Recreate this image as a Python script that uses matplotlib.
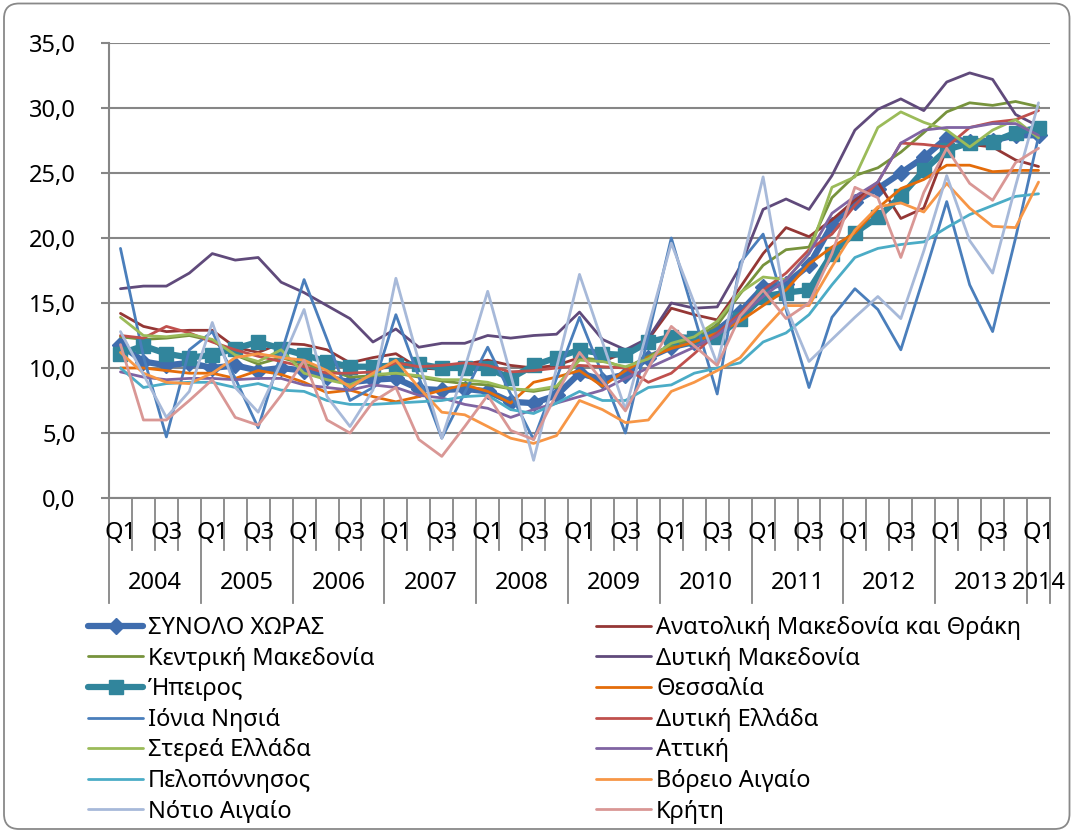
import matplotlib
matplotlib.use("Agg")
import matplotlib.pyplot as plt
from matplotlib.patches import FancyBboxPatch
import matplotlib.transforms as mtransforms

plt.rcParams['font.family'] = ['Noto Sans', 'DejaVu Sans']

# Δεδομένα (τρίμηνα 2004Q1 - 2014Q1)
quarters = ['Q1', 'Q2', 'Q3', 'Q4'] * 10 + ['Q1']
years = ['2004', '2005', '2006', '2007', '2008', '2009', '2010', '2011', '2012', '2013', '2014']

synolo = [11.8, 10.5, 10.2, 10.4, 10.0, 10.2, 9.8, 10.0, 9.8, 9.3, 8.9, 9.1, 9.2, 8.4, 8.3, 8.4, 8.2, 7.4, 7.3, 7.9,
          9.6, 9.1, 9.5, 10.8, 11.6, 12.0, 12.9, 14.3, 16.2, 16.5, 17.9, 21.0, 22.8, 23.8, 25.0, 26.2, 27.7, 27.4, 27.5, 27.9, 27.9]
anat_mak = [14.2, 13.2, 12.8, 12.9, 12.9, 11.6, 11.2, 11.9, 11.8, 11.4, 10.4, 10.8, 11.1, 10.0, 9.9, 10.3, 10.6, 10.2, 10.0, 10.2,
            10.8, 10.5, 11.2, 12.2, 14.6, 14.1, 13.7, 16.2, 18.8, 20.8, 20.1, 21.4, 22.9, 24.3, 21.5, 22.3, 26.9, 27.2, 27.0, 26.0, 25.5]
kentr_mak = [12.4, 12.2, 12.3, 12.5, 12.1, 11.0, 10.3, 10.8, 10.3, 9.9, 9.3, 9.4, 9.6, 9.3, 9.0, 8.8, 8.7, 8.4, 8.2, 8.5,
             10.8, 10.6, 10.0, 10.9, 11.7, 12.3, 13.3, 15.7, 17.9, 19.1, 19.3, 23.1, 24.8, 25.4, 26.6, 28.1, 29.7, 30.4, 30.2, 30.5, 30.1]
dyt_mak = [16.1, 16.3, 16.3, 17.3, 18.8, 18.3, 18.5, 16.6, 15.8, 14.8, 13.8, 12.0, 13.0, 11.6, 11.9, 11.9, 12.5, 12.3, 12.5, 12.6,
           14.3, 12.2, 11.4, 12.3, 15.0, 14.6, 14.7, 17.8, 22.2, 23.0, 22.2, 24.8, 28.3, 29.9, 30.7, 29.8, 32.0, 32.7, 32.2, 29.5, 28.6]
ipeiros = [11.1, 11.7, 11.1, 10.8, 11.0, 11.5, 12.0, 11.5, 11.0, 10.5, 10.1, 10.1, 10.2, 10.3, 10.0, 10.0, 10.0, 9.2, 10.2, 10.8,
           11.4, 11.1, 11.0, 12.0, 12.4, 12.3, 12.4, 13.8, 15.5, 15.8, 16.0, 18.8, 20.4, 21.6, 23.2, 25.2, 26.8, 27.3, 27.4, 28.1, 28.5]
thessalia = [10.0, 10.0, 9.8, 9.6, 9.6, 9.2, 9.8, 9.5, 8.9, 8.1, 8.3, 7.8, 7.4, 7.8, 8.3, 8.7, 8.2, 7.3, 8.9, 9.3,
             9.8, 8.6, 9.8, 10.8, 11.5, 12.0, 12.7, 13.6, 14.8, 16.0, 18.0, 19.3, 20.4, 22.3, 23.8, 24.5, 25.6, 25.6, 25.1, 25.2, 25.2]
ionia = [19.2, 10.9, 4.7, 11.4, 12.8, 9.2, 5.4, 11.1, 16.8, 12.2, 7.5, 8.5, 14.1, 9.3, 4.6, 8.1, 11.6, 8.0, 4.5, 9.2,
         13.9, 9.5, 5.0, 12.5, 20.0, 14.0, 8.0, 18.1, 20.3, 14.5, 8.5, 13.9, 16.1, 14.5, 11.4, 17.0, 22.8, 16.4, 12.8, 20.0, 27.8]
dyt_ell = [12.5, 12.3, 13.2, 12.7, 12.0, 11.4, 10.9, 10.5, 10.1, 9.6, 9.6, 9.7, 10.4, 10.1, 10.2, 10.4, 10.2, 9.7, 9.8, 10.0,
           10.2, 10.1, 10.0, 8.9, 9.6, 11.1, 12.7, 14.2, 16.0, 17.3, 19.1, 20.3, 22.5, 24.3, 27.3, 27.2, 27.0, 28.5, 28.9, 29.1, 29.8]
sterea = [13.9, 12.5, 12.4, 12.6, 12.2, 11.0, 10.5, 11.4, 9.6, 9.1, 8.7, 9.5, 9.6, 9.4, 9.1, 9.1, 8.9, 8.4, 8.3, 8.6,
          10.6, 10.5, 10.1, 10.7, 11.9, 12.4, 13.6, 15.8, 17.0, 16.8, 18.8, 23.9, 24.7, 28.5, 29.7, 28.9, 28.3, 27.0, 28.3, 29.1, 27.7]
attiki = [9.7, 9.3, 9.1, 9.2, 9.2, 9.1, 9.2, 9.2, 8.7, 8.5, 8.3, 8.7, 8.5, 7.9, 7.7, 7.2, 6.9, 6.2, 6.8, 7.3,
          7.8, 8.3, 9.2, 10.0, 10.8, 11.6, 12.5, 14.0, 15.5, 16.8, 18.8, 21.9, 23.2, 24.3, 27.3, 28.3, 28.5, 28.5, 28.8, 28.8, 27.9]
pelop = [10.0, 8.5, 8.8, 8.9, 8.9, 8.5, 8.8, 8.3, 8.2, 7.5, 7.2, 7.2, 7.3, 7.4, 7.5, 7.8, 7.9, 6.8, 6.5, 7.3,
         8.2, 7.5, 7.5, 8.5, 8.7, 9.6, 10.0, 10.4, 12.0, 12.7, 14.1, 16.4, 18.5, 19.2, 19.5, 19.7, 20.8, 21.8, 22.5, 23.2, 23.4]
vor_aig = [11.2, 9.6, 8.9, 8.8, 9.6, 10.8, 11.1, 10.8, 10.6, 9.8, 8.5, 9.6, 10.6, 8.5, 6.6, 6.4, 5.5, 4.6, 4.2, 4.8,
           7.5, 6.8, 5.8, 6.0, 8.2, 8.9, 9.8, 10.8, 12.9, 14.8, 14.8, 17.8, 20.6, 22.4, 22.7, 22.0, 24.2, 22.3, 20.9, 20.8, 24.3]
not_aig = [12.8, 9.5, 6.2, 8.2, 13.5, 8.5, 6.6, 10.4, 14.5, 7.8, 5.5, 8.3, 16.9, 10.5, 4.6, 10.0, 15.9, 9.5, 2.9, 10.0,
           17.2, 12.0, 6.8, 13.2, 19.6, 15.0, 10.3, 17.5, 24.7, 14.7, 10.5, 12.2, 13.9, 15.5, 13.8, 19.0, 24.8, 19.8, 17.3, 24.0, 30.4]
kriti = [11.8, 6.0, 6.0, 7.5, 9.1, 6.2, 5.6, 7.9, 10.6, 6.0, 5.0, 7.4, 8.5, 4.5, 3.2, 5.5, 7.9, 5.2, 4.5, 8.0,
         11.2, 9.0, 6.7, 10.0, 13.2, 11.7, 10.2, 14.0, 16.0, 13.8, 15.0, 18.8, 23.9, 23.1, 18.5, 23.5, 26.9, 24.2, 22.9, 25.8, 26.9]

series = [
    ("ΣΥΝΟΛΟ ΧΩΡΑΣ", synolo, '#3F6DAE', 4.5, 'D', 8),
    ("Ανατολική Μακεδονία και Θράκη", anat_mak, '#953735', 2.0, None, 0),
    ("Κεντρική Μακεδονία", kentr_mak, '#77933C', 2.0, None, 0),
    ("Δυτική Μακεδονία", dyt_mak, '#604A7B', 2.0, None, 0),
    ("Ήπειρος", ipeiros, '#31859C', 4.5, 's', 10),
    ("Θεσσαλία", thessalia, '#E46C0A', 2.0, None, 0),
    ("Ιόνια Νησιά", ionia, '#4A7EBB', 2.0, None, 0),
    ("Δυτική Ελλάδα", dyt_ell, '#C0504D', 2.0, None, 0),
    ("Στερεά Ελλάδα", sterea, '#9BBB59', 2.0, None, 0),
    ("Αττική", attiki, '#8064A2', 2.0, None, 0),
    ("Πελοπόννησος", pelop, '#4BACC6', 2.0, None, 0),
    ("Βόρειο Αιγαίο", vor_aig, '#F79646', 2.0, None, 0),
    ("Νότιο Αιγαίο", not_aig, '#A7B9D9', 2.0, None, 0),
    ("Κρήτη", kriti, '#D99795', 2.0, None, 0),
]

W, H = 1073, 832
fig = plt.figure(figsize=(W / 100, H / 100), dpi=100)
ax = fig.add_axes([109 / W, 1 - 498 / H, (1050 - 109) / W, 455 / H])

x = list(range(len(quarters)))
handles = []
for name, vals, col, lw, mk, ms in series:
    h, = ax.plot(x, vals, color=col, lw=lw, marker=mk, markersize=ms,
                 markerfacecolor=col, markeredgecolor=col, label=name,
                 solid_joinstyle='round', solid_capstyle='round')
    handles.append(h)

ax.set_xlim(-0.5, len(quarters) - 0.5)
ax.set_ylim(0, 35)
ax.set_yticks(range(0, 36, 5))
ax.set_yticklabels([f"{v:.1f}".replace('.', ',') for v in range(0, 36, 5)])
ax.yaxis.grid(True, color='#868686', lw=1.5)
ax.set_axisbelow(True)
ax.set_xticks([])
for s in ['top', 'right']:
    ax.spines[s].set_visible(False)
for s in ['left', 'bottom']:
    ax.spines[s].set_color('#868686')
    ax.spines[s].set_linewidth(1.5)
ax.tick_params(axis='y', length=6, width=1.5, color='#868686', pad=18, labelsize=17)

# άξονας κατηγοριών σε δύο επίπεδα (τρίμηνο / έτος)
trans = mtransforms.blended_transform_factory(ax.transData, ax.transAxes)
n = len(quarters)
for k in range(n + 1):
    b = k - 0.5
    long_line = (k % 4 == 0) or k == n
    y1 = -0.231 if long_line else -0.114
    ax.plot([b, b], [0, y1], color='#868686', lw=1.3, transform=trans, clip_on=False)
for i, q in enumerate(quarters):
    if i % 2 == 0:
        ax.text(i, -0.077, q, transform=trans, ha='center', va='center', fontsize=17)
for j, yr in enumerate(years):
    first = 4 * j
    last = min(4 * j + 3, n - 1)
    ax.text((first + last) / 2, -0.187, yr, transform=trans, ha='center', va='center', fontsize=17)

# υπόμνημα σε δύο στήλες
leg_kw = dict(loc='upper left', frameon=False, fontsize=17, borderpad=0, borderaxespad=0,
              handlelength=2.35, handletextpad=0.2, labelspacing=0.28, numpoints=1)
fig.legend(handles=handles[0::2], bbox_to_anchor=(88 / W, 1 - 616 / H), **leg_kw)
fig.legend(handles=handles[1::2], bbox_to_anchor=(596 / W, 1 - 616 / H), **leg_kw)

# περίγραμμα γραφήματος
border = FancyBboxPatch((0.04, 0.03), W / 100 - 0.075, H / 100 - 0.065,
                        boxstyle='round,pad=0,rounding_size=0.15',
                        transform=fig.dpi_scale_trans, fill=False,
                        edgecolor='#898989', lw=1.3)
fig.patches.append(border)

fig.savefig("out.png", dpi=100)
plt.close(fig)
